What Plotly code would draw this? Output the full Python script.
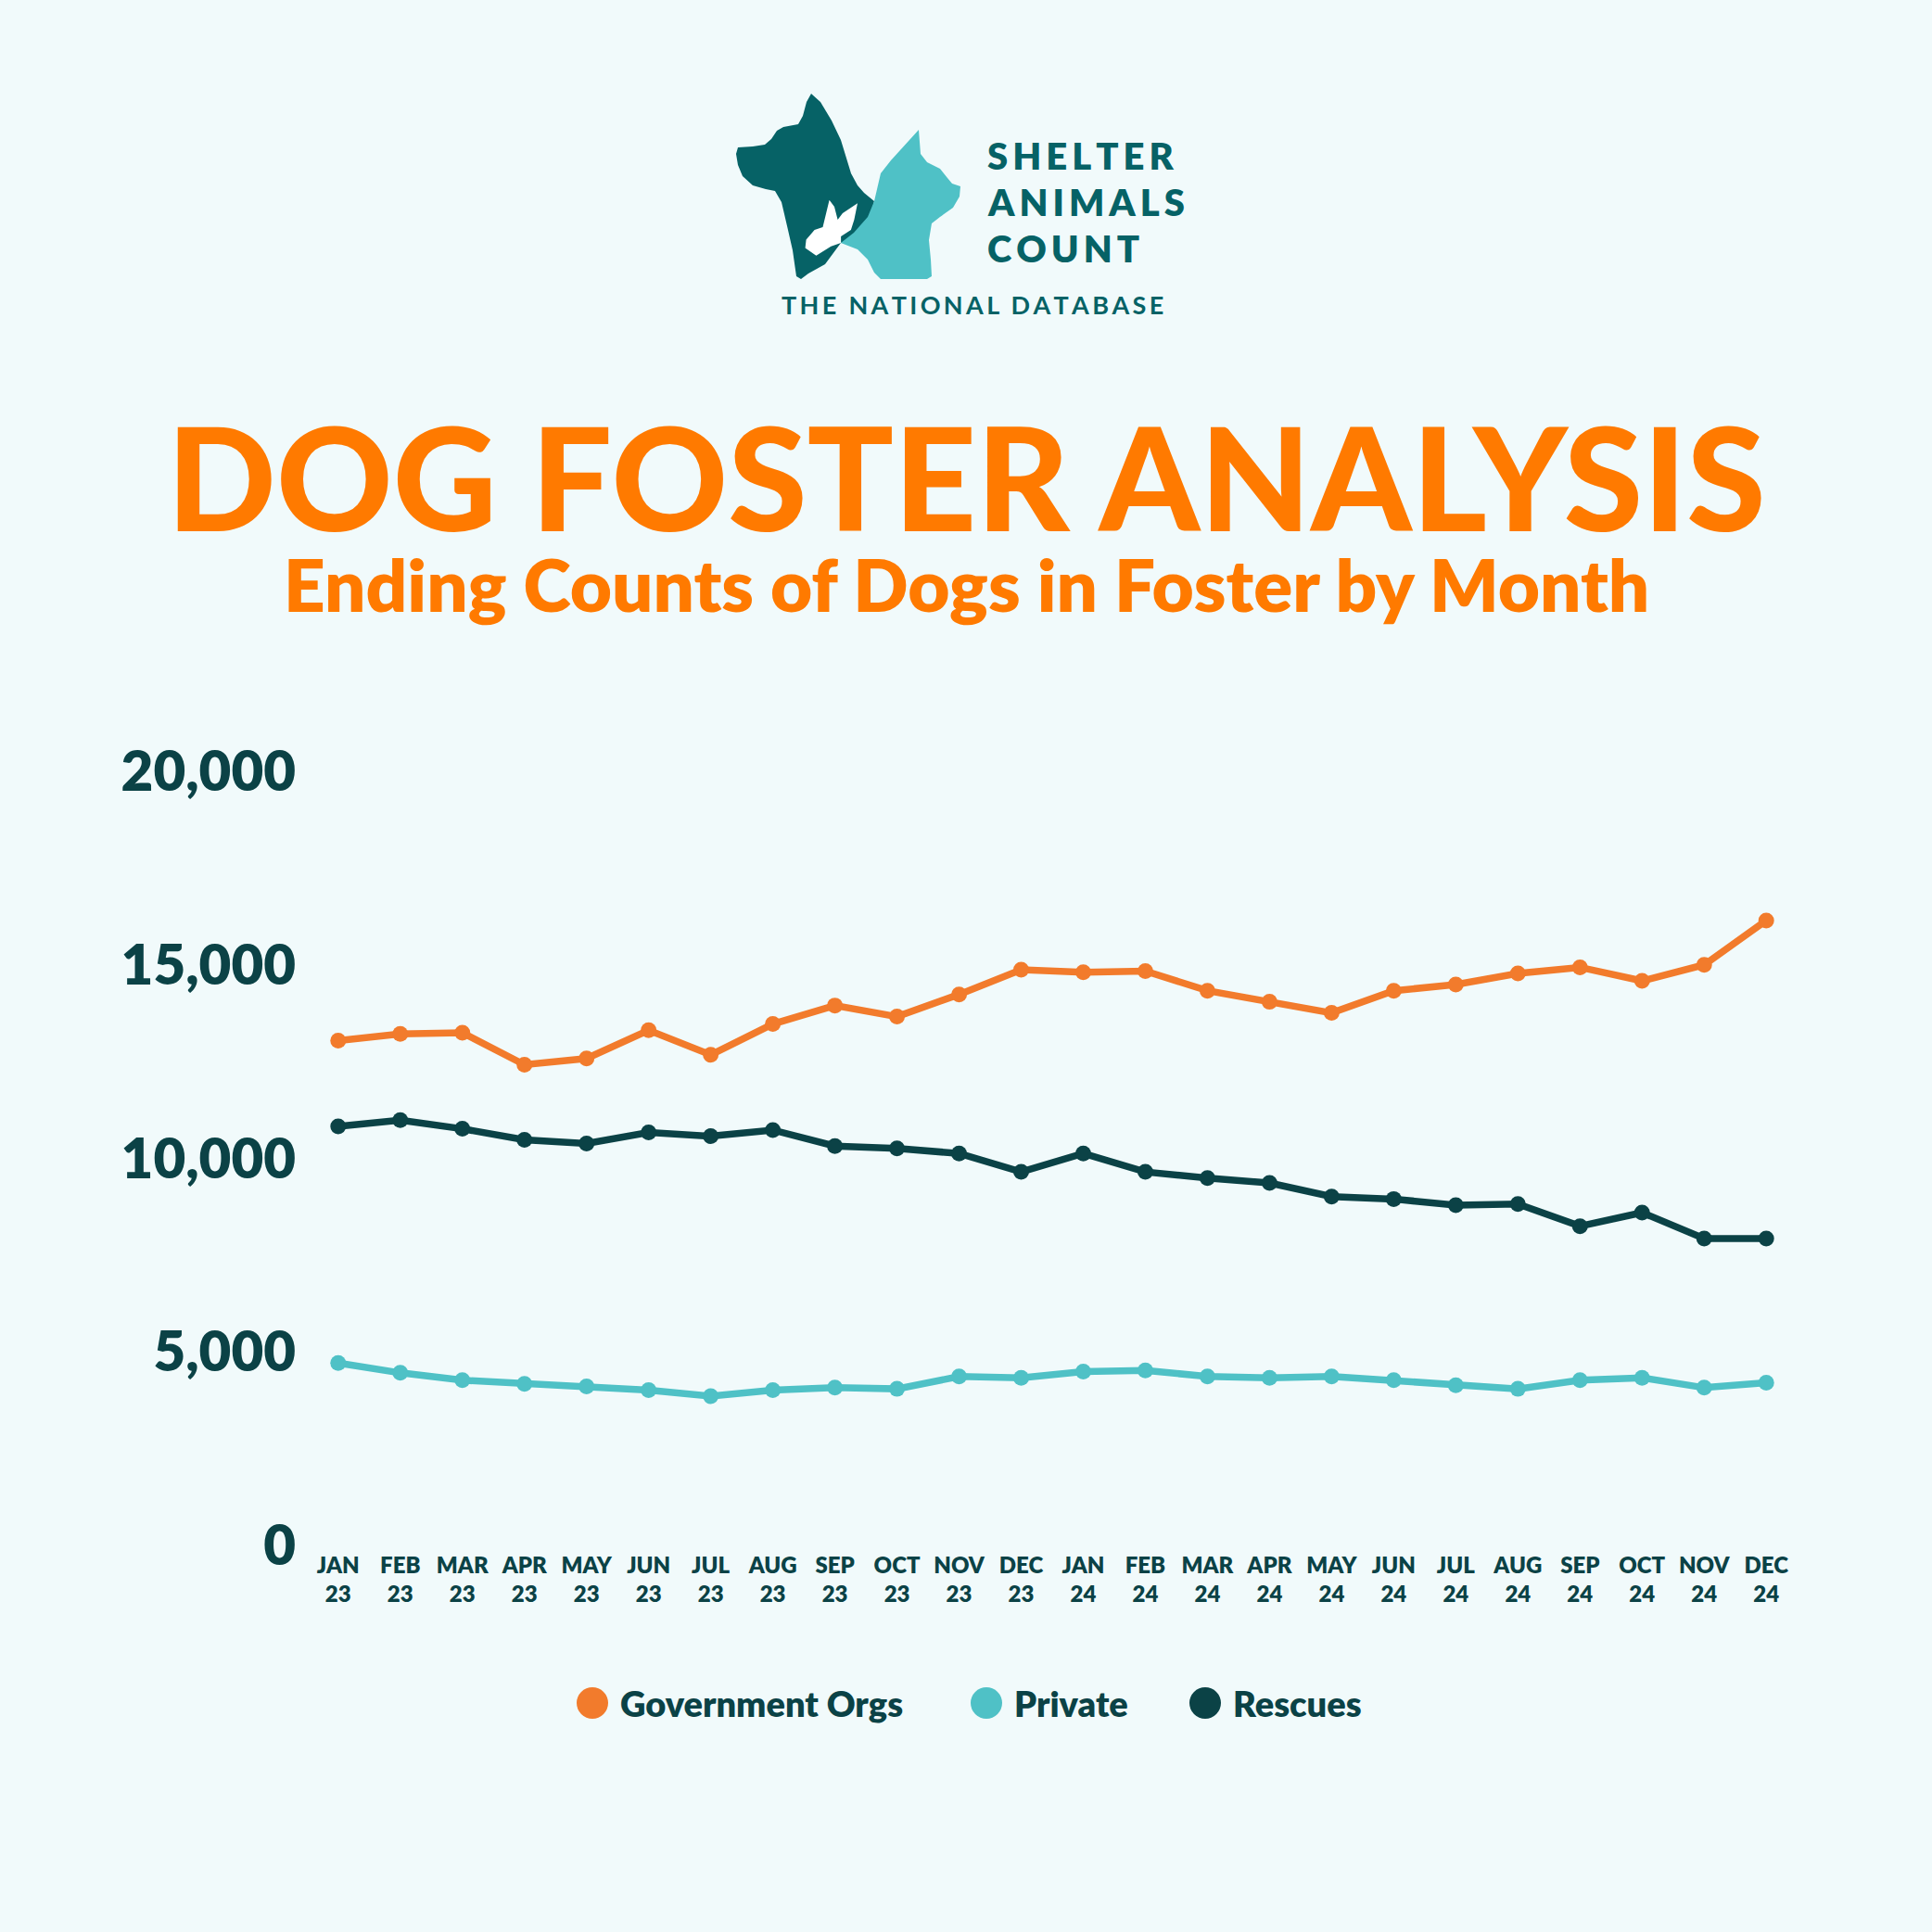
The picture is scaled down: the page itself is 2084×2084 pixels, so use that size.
import plotly.graph_objects as go

months = ["JAN", "FEB", "MAR", "APR", "MAY", "JUN", "JUL", "AUG", "SEP", "OCT", "NOV", "DEC"]
years = ["23", "24"]
month_labels = [f"{m}<br>{y}" for y in years for m in months]

government_orgs = [13040, 13217, 13248, 12420, 12580, 13312, 12675, 13471, 13949, 13662, 14236, 14873,
                   14809, 14841, 14331, 14045, 13758, 14331, 14490, 14777, 14936, 14586, 15000, 16146]
private = [4713, 4459, 4268, 4172, 4108, 4013, 3854, 4013, 4076, 4045, 4363, 4331,
           4490, 4522, 4363, 4331, 4363, 4268, 4140, 4045, 4268, 4331, 4076, 4204]
rescues = [10828, 10987, 10764, 10478, 10382, 10669, 10573, 10732, 10318, 10255, 10127, 9650,
           10127, 9650, 9490, 9363, 9013, 8949, 8790, 8822, 8248, 8599, 7930, 7930]

y_ticks = [0, 5000, 10000, 15000, 20000]

ORANGE = "#F27B2C"
TEAL = "#4FC1C6"
DARK = "#0B4246"
LOGO_DARK = "#066266"
TITLE_ORANGE = "#FF7A00"
BG = "#F1FAFB"
FONT = "Lato"
NB = "\u00a0"

W = H = 2084
ML, MR, MT, MB = 338, 152, 832, 417
PW = W - ML - MR
PH = H - MT - MB


def px(x):
    return (x - ML) / PW


def py(y):
    return (H - MB - y) / PH


def path(points):
    return "M " + " L ".join(f"{px(x):.5f},{py(y):.5f}" for x, y in points) + " Z"


def spaced(text, gap="\u2009"):
    return gap.join(text)


dog = [(875, 101), (885, 110), (897, 130), (907, 151), (918, 187), (925, 200), (932, 208),
       (943, 217), (938, 236), (928, 250), (918, 259), (907, 262), (890, 285), (872, 295),
       (864, 301), (859, 298), (855, 270), (850, 248), (843, 218), (836, 206), (826, 204),
       (812, 200), (801, 190), (796, 178), (794, 166), (796, 159), (812, 158), (825, 156),
       (832, 150), (838, 141), (845, 137), (861, 134), (866, 125), (870, 110)]
cat = [(991, 140), (993, 166), (1000, 175), (1014, 182), (1022, 192), (1027, 198), (1036, 201),
       (1035, 212), (1028, 224), (1014, 234), (1005, 241), (1002, 259), (1004, 280), (1005, 298),
       (1000, 301), (950, 301), (943, 294), (936, 280), (925, 269), (907, 262), (921, 251),
       (936, 234), (943, 217), (950, 187), (961, 173)]
rabbit = [(894.6, 215.7), (900, 222.9), (903.6, 237.1), (908.9, 230), (925, 219.3), (921.4, 237.1),
          (917.9, 247.9), (907.1, 255), (907.1, 262.1), (896.4, 265.7), (880.4, 275.7),
          (868.6, 267.5), (869.6, 258.6), (878.6, 247.9), (887.5, 245)]

series = [("Government Orgs", government_orgs, ORANGE),
          ("Private", private, TEAL),
          ("Rescues", rescues, DARK)]
# legend dot centres (pixels from left)
legend_x = [639, 1064, 1300]
LEGEND_Y = 1837

fig = go.Figure()
for name, vals, color in series:
    fig.add_trace(go.Scatter(
        x=month_labels, y=vals, name=name, mode="lines+markers",
        line=dict(color=color, width=7.5),
        marker=dict(color=color, size=17),
    ))

shapes = [
    dict(type="path", path=path(dog), fillcolor=LOGO_DARK),
    dict(type="path", path=path(cat), fillcolor=TEAL),
    dict(type="path", path=path(rabbit), fillcolor="#FFFFFF"),
]
for s in shapes:
    s.update(xref="paper", yref="paper", line_width=0, layer="above")

annotations = [
    dict(text="DOG FOSTER ANALYSIS", x=px(1042), y=py(513), xanchor="center", yanchor="middle",
         font=dict(family=FONT, size=155, color=TITLE_ORANGE, weight=900)),
    dict(text="Ending Counts of Dogs in Foster by Month", x=px(1042), y=py(630), xanchor="center",
         yanchor="middle", font=dict(family=FONT, size=78, color=TITLE_ORANGE, weight=800)),
    dict(text=spaced("SHELTER"), x=px(1063), y=py(168), xanchor="left", yanchor="middle",
         font=dict(family=FONT, size=40, color=LOGO_DARK, weight=800)),
    dict(text=spaced("ANIMALS"), x=px(1063), y=py(218), xanchor="left", yanchor="middle",
         font=dict(family=FONT, size=40, color=LOGO_DARK, weight=800)),
    dict(text=spaced("COUNT"), x=px(1063), y=py(268), xanchor="left", yanchor="middle",
         font=dict(family=FONT, size=40, color=LOGO_DARK, weight=800)),
    dict(text=(NB * 2).join(spaced(w) for w in "THE NATIONAL DATABASE".split()), x=px(1049), y=py(328),
         xanchor="center", yanchor="middle",
         font=dict(family=FONT, size=27, color=LOGO_DARK, weight=700)),
]

# legend drawn as dots + labels
for (name, vals, color), lx in zip(series, legend_x):
    shapes.append(dict(type="circle", xref="paper", yref="paper", xsizemode="pixel", ysizemode="pixel",
                       xanchor=px(lx), yanchor=py(LEGEND_Y), x0=-17, x1=17, y0=-17, y1=17,
                       fillcolor=color, line_width=0))
    annotations.append(dict(text=name, x=px(lx + 28), y=py(LEGEND_Y), xanchor="left", yanchor="middle",
                            font=dict(family=FONT, size=38, color=DARK, weight=800)))

for a in annotations:
    a.update(xref="paper", yref="paper", showarrow=False)

fig.update_layout(
    width=W, height=H,
    paper_bgcolor=BG, plot_bgcolor=BG,
    margin=dict(l=ML, r=MR, t=MT, b=MB),
    font=dict(family=FONT, color=DARK),
    shapes=shapes,
    annotations=annotations,
    showlegend=False,
    xaxis=dict(type="category", range=[-0.4, 23.4], showgrid=False, zeroline=False, showline=False,
               ticks="", tickfont=dict(family=FONT, size=24, color=DARK, weight=800), tickangle=0,
               ticklabelstandoff=5),
    yaxis=dict(range=[0, 20000], tickvals=y_ticks, ticktext=[f"{v:,}" for v in y_ticks],
               showgrid=False, zeroline=False, showline=False, ticks="",
               tickfont=dict(family=FONT, size=60, color=DARK, weight=800), ticklabelstandoff=18),
)

fig.write_html("out.html", config={"displayModeBar": False},
               post_script=f"document.body.style.margin='0';document.body.style.background='{BG}';")
